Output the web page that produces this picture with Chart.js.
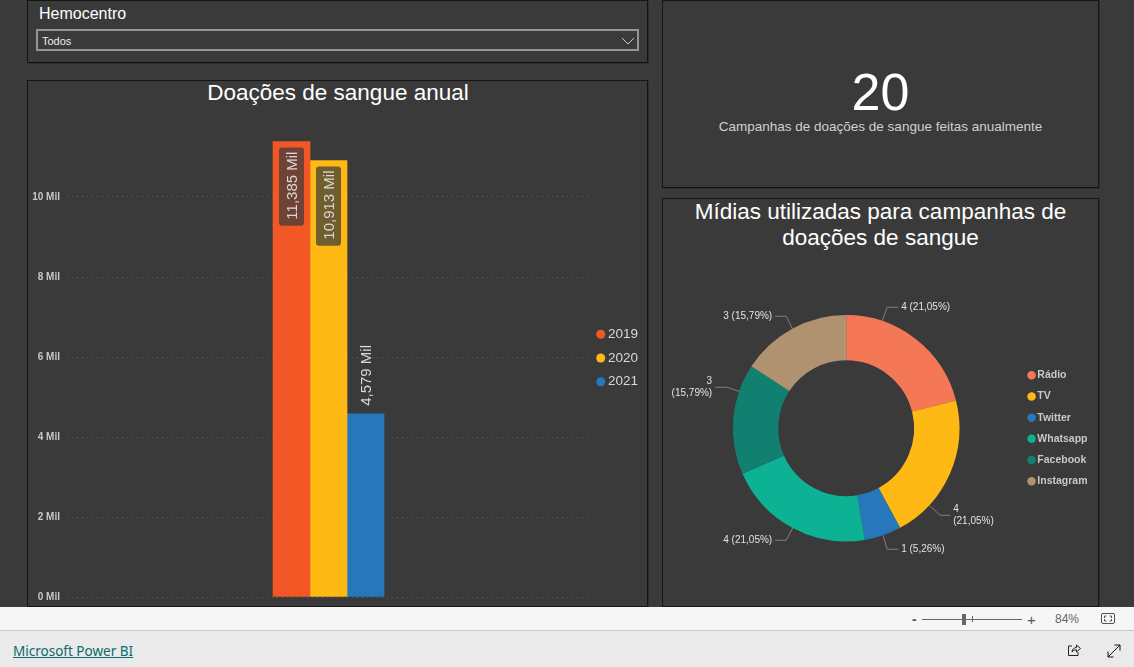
<!DOCTYPE html>
<html lang="pt-BR">
<head>
<meta charset="utf-8">
<title>Doações de sangue</title>
<script src="https://cdn.jsdelivr.net/npm/chart.js@4"></script>
<style>
  html, body { margin: 0; padding: 0; width: 1134px; height: 667px; overflow: hidden; background: #3a3a3a; font-family: "Liberation Sans", Arial, sans-serif; }
  .panel { position: absolute; box-sizing: border-box; border: 1px solid #141414; box-shadow: 1px 1px 0 #2e2e2e; }
  .abs { position: absolute; white-space: nowrap; }
  canvas { position: absolute; display: block; }
  .title { color: #fff; text-align: center; }
  #statusbar { position: absolute; left: 0; top: 607px; width: 1134px; height: 23px; background: #f6f6f6; }
  #footer { position: absolute; left: 0; top: 630px; width: 1134px; height: 37px; background: #eaeaea; border-top: 1px solid #c8c8c8; box-sizing: border-box; }
</style>
</head>
<body>

<!-- filtro -->
<div class="panel" style="left:27px;top:0;width:621px;height:63px"></div>
<div class="abs" style="left:39px;top:5px;font-size:16px;color:#fff">Hemocentro</div>
<div class="abs" style="left:36px;top:29px;width:603px;height:22px;box-sizing:border-box;border:2px solid #959595"></div>
<div class="abs" style="left:42px;top:35px;font-size:11px;color:#eee">Todos</div>
<svg class="abs" style="left:621px;top:36px" width="14" height="10"><path d="M1 2 L7 8 L13 2" fill="none" stroke="#ccc" stroke-width="1"/></svg>

<!-- grafico de barras -->
<div class="panel" style="left:27px;top:80px;width:621px;height:527px"></div>
<div class="abs title" style="left:28px;top:80px;width:620px;font-size:22.5px">Doações de sangue anual</div>
<canvas id="barChart" style="left:28px;top:81px" width="620" height="525"></canvas>

<!-- card -->
<div class="panel" style="left:662px;top:0;width:437px;height:188px"></div>
<div class="abs title" style="left:662px;top:62px;width:437px;font-size:52px">20</div>
<div class="abs" style="left:662px;top:119px;width:437px;text-align:center;font-size:13.5px;color:#d0d0d0">Campanhas de doações de sangue feitas anualmente</div>

<!-- rosca -->
<div class="panel" style="left:662px;top:198px;width:437px;height:409px"></div>
<div class="abs title" style="left:662px;top:199px;width:437px;font-size:22.5px;line-height:26px">Mídias utilizadas para campanhas de<br>doações de sangue</div>
<canvas id="pieChart" style="left:663px;top:199px" width="435" height="407"></canvas>

<!-- barra do power bi -->
<div id="statusbar"></div>
<div id="footer"></div>
<div class="abs" style="left:912px;top:611px;font-size:14px;font-weight:bold;color:#555">-</div>
<div class="abs" style="left:922px;top:619px;width:100px;height:1px;background:#666"></div>
<div class="abs" style="left:962px;top:614px;width:4px;height:11px;background:#666"></div>
<div class="abs" style="left:972px;top:616px;width:1px;height:6px;background:#666"></div>
<div class="abs" style="left:1027px;top:611px;font-size:15px;color:#555">+</div>
<div class="abs" style="left:1055px;top:612px;font-size:12px;color:#666">84%</div>
<svg class="abs" style="left:1101px;top:613px" width="15" height="12"><rect x="0.5" y="0.5" width="13" height="10" rx="1.5" fill="none" stroke="#555"/><path d="M3.5 5 V3 H5.5 M10.5 5 V3 H8.5 M3.5 6 V8 H5.5 M10.5 6 V8 H8.5" fill="none" stroke="#555"/></svg>
<a class="abs" href="#" style="left:13px;top:642px;font-family:'Noto Sans',sans-serif;font-size:13.5px;color:#0b6a6e">Microsoft Power BI</a>
<svg class="abs" style="left:1067px;top:643px" width="15" height="14"><path d="M5 3 H1.5 V12.5 H11 V9 M5 9 C5 6 7.5 4.5 9.5 4.5 V2 L13.5 5.5 L9.5 9 V6.8 C7.5 6.8 6 7.5 5 9 Z" fill="none" stroke="#222" stroke-width="1"/></svg>
<svg class="abs" style="left:1107px;top:644px" width="14" height="14"><path d="M1 13 L13 1 M7.5 1 H13 V6.5 M1 7.5 V13 H6.5" fill="none" stroke="#111" stroke-width="1"/></svg>

<script>
// dados do grafico de barras
const years = ['2019', '2020', '2021'];
const donations = [11385, 10913, 4579];
const donationLabels = ['11,385 Mil', '10,913 Mil', '4,579 Mil'];
const yearColors = ['#f25825', '#ffb914', '#2777bd'];
const tickValues = [0, 2000, 4000, 6000, 8000, 10000];
const tickLabels = ['0 Mil', '2 Mil', '4 Mil', '6 Mil', '8 Mil', '10 Mil'];

// dados da rosca
const medias = ['Rádio', 'TV', 'Twitter', 'Whatsapp', 'Facebook', 'Instagram'];
const campaigns = [4, 4, 1, 4, 3, 3];
const mediaColors = ['#f47856', '#ffb914', '#2777bd', '#0db294', '#118070', '#b09270'];

// linhas de chamada: angulo na borda, cotovelo e fim da linha (relativos ao centro)
const leaders = [
  { angle: 18.6, elbow: [41, -121], end: [52, -121], wrap: false },
  { angle: 132.9, elbow: [94, 87], end: [104, 87], wrap: true },
  { angle: 161, elbow: [41, 121], end: [52, 121], wrap: false },
  { angle: 208.2, elbow: [-60, 112], end: [-71, 112], wrap: false },
  { angle: 289, elbow: [-119, -41], end: [-131, -41], wrap: true },
  { angle: 331.6, elbow: [-60, -112], end: [-71, -112], wrap: false }
];

const total = campaigns.reduce((a, b) => a + b, 0);

// rotulos girados dentro/acima das barras
const barLabels = {
  id: 'barLabels',
  afterDatasetsDraw(chart) {
    const ctx = chart.ctx;
    ctx.save();
    ctx.font = '15px "Liberation Sans", Arial, sans-serif';
    ctx.textBaseline = 'middle';
    donations.forEach((v, i) => {
      const bar = chart.getDatasetMeta(i).data[0];
      const text = donationLabels[i];
      const w = ctx.measureText(text).width;
      const inside = bar.base - bar.y > 300; // a barra baixa fica com o rotulo por cima
      if (inside) {
        ctx.fillStyle = 'rgba(58,58,58,0.72)';
        ctx.beginPath();
        ctx.roundRect(bar.x - 12.5, bar.y + 6, 25, w + 10, 3);
        ctx.fill();
      }
      ctx.translate(bar.x, inside ? bar.y + 10 : bar.y - 8);
      ctx.rotate(-Math.PI / 2);
      ctx.fillStyle = '#d8d8d8';
      ctx.textAlign = inside ? 'right' : 'left';
      ctx.fillText(text, 0, 1);
      ctx.setTransform(1, 0, 0, 1, 0, 0);
    });
    ctx.restore();
  }
};

// rotulos e linhas da rosca
const pieLabels = {
  id: 'pieLabels',
  afterDatasetsDraw(chart) {
    const ctx = chart.ctx;
    const arcs = chart.getDatasetMeta(0).data;
    const cx = arcs[0].x, cy = arcs[0].y, r = arcs[0].outerRadius;
    ctx.save();
    ctx.font = '10px "Liberation Sans", Arial, sans-serif';
    ctx.textBaseline = 'middle';
    campaigns.forEach((v, i) => {
      const l = leaders[i];
      const a = l.angle * Math.PI / 180;
      ctx.strokeStyle = '#808080';
      ctx.lineWidth = 1;
      ctx.beginPath();
      ctx.moveTo(cx + r * Math.sin(a), cy - r * Math.cos(a));
      ctx.lineTo(cx + l.elbow[0], cy + l.elbow[1]);
      ctx.lineTo(cx + l.end[0], cy + l.end[1]);
      ctx.stroke();

      const pct = (v / total * 100).toFixed(2).replace('.', ',') + '%';
      const right = l.end[0] < 0;
      ctx.fillStyle = '#e2e2e2';
      ctx.textAlign = right ? 'right' : 'left';
      const tx = cx + l.end[0] + (right ? -3 : 3);
      const ty = cy + l.end[1];
      if (l.wrap) {
        ctx.fillText(String(v), tx, ty - 6);
        ctx.fillText('(' + pct + ')', tx, ty + 6);
      } else {
        ctx.fillText(v + ' (' + pct + ')', tx, ty);
      }
    });
    ctx.restore();
  }
};

new Chart(document.getElementById('barChart'), {
  type: 'bar',
  data: {
    labels: [''],
    datasets: years.map((y, i) => ({
      label: y,
      data: [donations[i]],
      backgroundColor: yearColors[i],
      borderWidth: 0,
      barThickness: 37
    }))
  },
  options: {
    responsive: false,
    animation: false,
    layout: { padding: { top: 36, bottom: 7, left: 0, right: 0 } },
    plugins: {
      tooltip: { enabled: false },
      legend: {
        position: 'right',
        labels: {
          usePointStyle: true,
          pointStyle: 'circle',
          boxWidth: 1,
          boxHeight: 6.4,
          padding: 10.2,
          color: '#d8d8d8',
          font: { size: 13.5, family: '"Liberation Sans", Arial, sans-serif' }
        }
      }
    },
    scales: {
      x: { display: false },
      y: {
        min: 0,
        max: 12000,
        afterFit: axis => { axis.width = 39; axis.paddingTop = 0; axis.paddingBottom = 9; },
        afterBuildTicks: axis => { axis.ticks = tickValues.map(value => ({ value })); },
        border: { display: false, dash: [1, 4] },
        grid: { color: 'rgba(255,255,255,0.18)', drawTicks: false },
        ticks: {
          padding: 7,
          color: '#c8c8c8',
          font: { size: 10, weight: 'bold', family: '"Liberation Sans", Arial, sans-serif' },
          callback: (v, i) => tickLabels[i]
        }
      }
    }
  },
  plugins: [barLabels]
});

new Chart(document.getElementById('pieChart'), {
  type: 'doughnut',
  data: {
    labels: medias,
    datasets: [{ data: campaigns, backgroundColor: mediaColors, borderWidth: 0 }]
  },
  options: {
    responsive: false,
    animation: false,
    cutout: '60%',
    layout: { padding: { top: 116, bottom: 64.5, left: 9, right: 0.5 } },
    plugins: {
      tooltip: { enabled: false },
      legend: {
        position: 'right',
        labels: {
          usePointStyle: true,
          pointStyle: 'circle',
          boxWidth: 1,
          boxHeight: 6,
          padding: 10.7,
          color: '#c8c8c8',
          font: { size: 10.5, weight: 'bold', family: '"Liberation Sans", Arial, sans-serif' }
        }
      }
    }
  },
  plugins: [pieLabels]
});
</script>
</body>
</html>
